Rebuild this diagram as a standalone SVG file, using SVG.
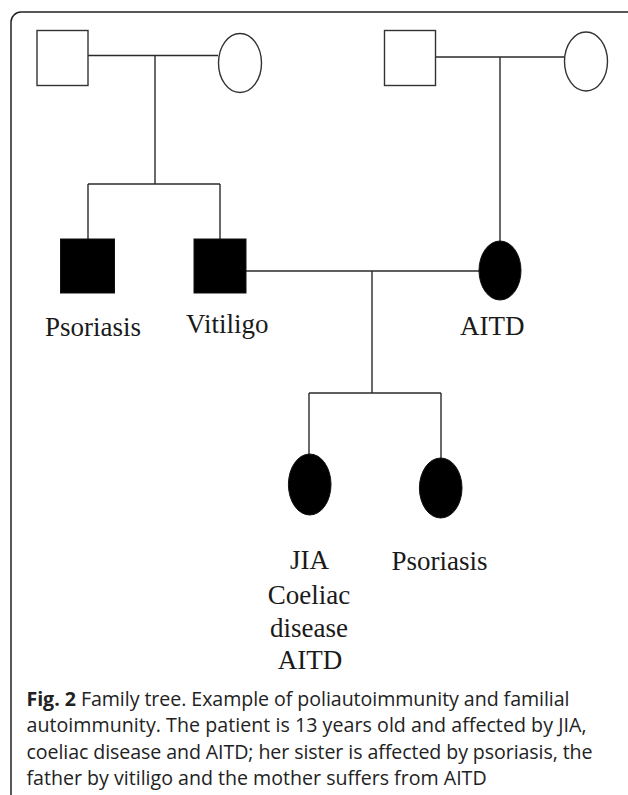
<svg xmlns="http://www.w3.org/2000/svg" width="628" height="795" viewBox="0 0 628 795">
<style>
.ln{stroke:#2a2a2a;stroke-width:1.4;fill:none}
.open{fill:#fff;stroke:#333;stroke-width:1.4}
.aff{fill:#000;stroke:#111;stroke-width:1}
.lbl{font-family:"Liberation Serif","Times New Roman",serif;font-size:27px;fill:#1a1a1a}
.cap{font-family:"Open Sans","Noto Sans",sans-serif;font-size:19.6px;fill:#222}
</style>
<rect width="628" height="795" fill="#fff"/>
<rect x="11" y="12" width="630" height="800" rx="10" ry="10" fill="none" stroke="#222" stroke-width="1.5"/>
<g id="connectors">
<path class="ln" d="M88,55.5 H218"/>
<path class="ln" d="M155,55.5 V184"/>
<path class="ln" d="M88,184 H220"/>
<path class="ln" d="M88,184 V239"/>
<path class="ln" d="M220,184 V239"/>
<path class="ln" d="M435,57 H564"/>
<path class="ln" d="M500,57 V241"/>
<path class="ln" d="M246,271 H479"/>
<path class="ln" d="M372,271 V393"/>
<path class="ln" d="M309,393 H441"/>
<path class="ln" d="M309,393 V455"/>
<path class="ln" d="M441,393 V459"/>
</g>
<g id="grandfather-paternal"><rect class="open" x="37" y="30.5" width="51" height="55"/></g>
<g id="grandmother-paternal"><ellipse class="open" cx="240" cy="63" rx="21.5" ry="29.5"/></g>
<g id="grandfather-maternal"><rect class="open" x="384.5" y="30.5" width="51" height="55"/></g>
<g id="grandmother-maternal"><ellipse class="open" cx="586" cy="61.5" rx="21.5" ry="29.5"/></g>
<g id="uncle"><rect class="aff" x="60.5" y="239" width="54" height="54"/><text class="lbl" x="45" y="336">Psoriasis</text></g>
<g id="father"><rect class="aff" x="194" y="239" width="52" height="54"/><text class="lbl" x="186" y="333">Vitiligo</text></g>
<g id="mother"><ellipse class="aff" cx="500" cy="270.5" rx="21" ry="29.5"/><text class="lbl" x="460" y="335">AITD</text></g>
<g id="patient"><ellipse class="aff" cx="309.7" cy="484.5" rx="21.3" ry="30.5"/>
<text class="lbl" text-anchor="middle"><tspan x="309.5" y="568.5">JIA</tspan><tspan x="309" y="603.5">Coeliac</tspan><tspan x="309" y="637">disease</tspan><tspan x="310" y="669">AITD</tspan></text></g>
<g id="sister"><ellipse class="aff" cx="440.7" cy="488" rx="21.3" ry="30"/><text class="lbl" x="391.5" y="570">Psoriasis</text></g>
<g id="caption">
<text class="cap" x="26.5" y="706" textLength="543" lengthAdjust="spacing"><tspan font-weight="bold">Fig. 2</tspan> Family tree. Example of poliautoimmunity and familial</text>
<text class="cap" x="26.5" y="732" textLength="560" lengthAdjust="spacing">autoimmunity. The patient is 13 years old and affected by JIA,</text>
<text class="cap" x="26.5" y="758.5" textLength="566" lengthAdjust="spacing">coeliac disease and AITD; her sister is affected by psoriasis, the</text>
<text class="cap" x="26.5" y="785">father by vitiligo and the mother suffers from AITD</text>
</g>
</svg>
